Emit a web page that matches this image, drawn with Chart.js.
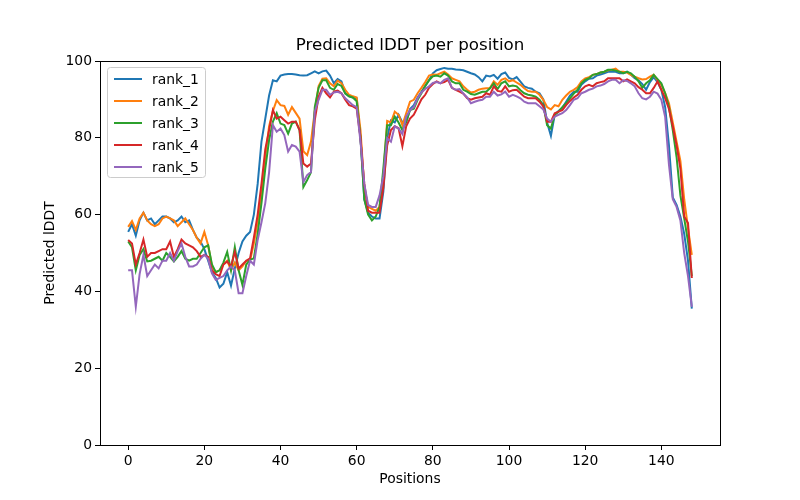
<!DOCTYPE html>
<html>
<head>
<meta charset="utf-8">
<script src="https://cdn.jsdelivr.net/npm/chart.js@4.4.0/dist/chart.umd.min.js"></script>
<style>
  html, body { margin: 0; padding: 0; background: #fff; }
  #wrap { width: 800px; height: 500px; }
</style>
</head>
<body>
<div id="wrap"><canvas id="c"></canvas></div>
<script>
/* ── data (predicted lDDT per residue) ── */
const rank1 = [
  55.5,57.5,54.5,58.5,60.5,58.5,59,57.5,58.5,59.5, 59.5,59,58,58.5,59.5,58,58.5,56,54,53,
  51,48,45,43.5,41,42,45,41.5,46,50, 53,54.5,55.5,60,68,79,85,91,95,94.7,
  96.2,96.5,96.6,96.6,96.5,96.3,96.2,96.3,96.8,97.3, 96.8,97.3,97.5,96.2,94.2,95.3,94.7,91.6,90.8,90.5,
  90.3,80,64,60.5,59.5,59,59,66,80,84.5, 84,86,84,84,87.5,88.5,90.5,92,93.5,95,
  96.8,97.6,97.9,98.2,98,98,97.8,97.7,97.6,97.2, 96.8,96.5,95.8,94.7,96.2,96,96.4,95.4,96.6,97,
  95.6,95.2,95.8,94.6,93.4,93,92.8,92,91.6,90, 84,80.5,86,87,87.8,89.4,91,92,92,93.8,
  94.7,95.4,95.5,96.2,96.5,96.8,97.2,97.2,97.2,96.8, 96.8,97.2,96.4,95.5,95,94,92.5,94.5,95.8,94.5,
  92.5,88,78,64.5,62.5,59.5,55,48,35.5
];
const rank2 = [
  56.8,58.3,56,59,60.5,58.5,57.5,57,57.5,59, 59.5,59,58.5,57,58,59,57.5,56,54,52.5,
  55.5,52,46.5,45,45.5,47,48,45.5,47.5,45.5, 46.5,48,48,52.5,58,65,75,83,87,89.8,
  88.5,88.3,86,88,86.5,85,76.5,75.5,79,87, 93.5,95.4,95.5,94.2,93.4,94.9,94.2,92.5,91.2,90.8,
  90.5,82,67,62,61.5,61,62,70,84.4,84, 86.8,86,83.3,86.4,89.4,89.9,91.6,93,94.5,96.2,
  96.5,96.4,96.8,97.2,96.5,95.5,95.1,94.7,93.4,92.5, 91.8,92,92.5,92.8,92.9,93,94.7,93.8,95.1,95.5,
  94.7,95,94.4,93.8,92.9,92.2,92,92,91.2,89.9, 88,87.4,88.5,88.2,89.9,91,92,92.5,93.2,94.7,
  95.5,95.8,96.4,96.6,97,97.2,97.6,97.7,98,97.2, 97.2,97,96.4,95.9,95.5,95.2,95.3,95.9,96.4,95,
  93.8,91.6,89,84,79,74,64,56.5,49.5
];
const rank3 = [
  53,51.5,45.5,49.5,51,47.8,48,48.5,49,48, 50,49,47.8,49,50.5,48.5,48,48.5,48.5,50,
  51.5,52,47,45,45.5,47.5,50.3,45.5,51.5,45.5, 41.7,47,48.3,48.6,55,63,72,79.4,84.2,86.4,
  83.7,83.3,81.1,83.7,84.2,82,67.2,69,71,88, 93,95,95,93,92.5,94,93.5,91.5,90.8,90.5,
  89.5,80,64,60,58.5,59.5,62,72,83.3,83.3, 85.5,84,82,84.2,87.2,87.6,89.9,91.6,93.5,95,
  96,96.2,95.9,96.8,96.2,94.7,94.2,94.2,92.5,92, 91.4,91.2,91.6,92,92,92.9,94.2,92.7,94.2,94.7,
  93.4,93.6,93.4,92.4,91.6,91.2,91,90.7,89.9,88.5, 83.3,82.4,86,86.8,88,89,90.3,91.5,92.5,94.2,
  95.1,95.5,96.4,96.6,97,97.2,97.7,97.7,97.5,97.2, 96.8,97.2,96.8,95.9,94.7,93,94.2,95,96.4,95.3,
  94.2,91.6,88,82,75,65,59,53,44
];
const rank4 = [
  53.4,52.5,47,50,53.5,49,50,50,50.5,51, 51,53,49,51,53.5,52.5,52,51.5,50.5,49,
  49.5,49,45.5,44.5,44,47,47.8,46.5,50.3,46, 47,48,48.6,54,60,68,77,82,87.2,85,
  85.5,84.6,83.7,84.2,84.2,82,73.3,72.5,73.3,84.6, 90.7,93,91.6,90.5,92,92.3,91.6,89.9,88.5,88.2,
  87.6,80,68,61,60.5,60.5,60.5,67,78,82, 83,82.5,77.8,83,85,86,88,90,91.2,93,
  94,94.7,94.2,94.5,95.1,93,92.5,92,91.5,90.3, 89.9,90.3,90.5,90.7,91.6,91.2,93.4,92.2,92,93.4,
  92,92.4,92.5,91.6,90.7,90.3,90.3,90.3,89.4,88.2, 84.2,84.2,86.4,86.8,87.2,88.5,89.6,90.5,91.2,92.5,
  93.4,93.8,93.4,94.2,94.5,94.7,95.5,95.5,95.5,95.5, 94.7,95.2,94.7,94.2,93.2,92.5,91.6,91.6,93,94.7,
  92.5,90.3,87.5,83,78,72,59.5,57.8,43.5
];
const rank5 = [
  45.5,45.5,36,44.5,49.5,44,45.5,47,46,48, 48,50,48,50.5,52.5,49,46.5,46.5,47,48.5,
  49.5,48.5,44.7,43,43.5,44,45.5,46.5,45.5,39.5, 39.5,44,48,47,53.4,58,63,71,83.3,81.6,
  82.4,80.7,76.4,78.1,77.7,76.4,68.5,70.3,71.1,86.8, 89.9,92.5,92.5,91.2,91.8,92,91.6,90.3,89.4,88.5,
  88,79,68,62.5,62,62,65,70,79.9,79, 83,82.4,81,85.5,87.2,88,90.3,91.8,92.7,93.4,
  94.3,94.5,94.2,95.1,95.5,93,92.5,92.7,91.5,90.5, 89,89.4,89.7,89.9,90.7,90.7,92,91,91.3,92,
  90.7,91.2,90.8,90.3,89.4,89,89,89,88.2,87.4, 85,84.2,85.5,86,86.4,87.2,88.5,89.9,90.3,91.6,
  92,92.5,92.8,93.4,93.6,94,94.7,95.1,95.1,94.2, 95,94.8,94.2,93.4,91.6,90.3,90,90.7,92,91.5,
  89.9,85.5,73,64,62,58.5,50,44,36
];
const series = [rank1, rank2, rank3, rank4, rank5];
const names  = ['rank_1','rank_2','rank_3','rank_4','rank_5'];
const colors = ['#1f77b4','#ff7f0e','#2ca02c','#d62728','#9467bd'];
const xTicks = [0, 20, 40, 60, 80, 100, 120, 140];
const yTicks = [0, 20, 40, 60, 80, 100];
const titleText = 'Predicted lDDT per position';

const FONT = "'DejaVu Sans', sans-serif";

/* ── frame (4 spines) + title centred over the axes ── */
const frame = {
  id: 'frame',
  afterDatasetsDraw(chart) {
    const { ctx, chartArea: a } = chart;
    ctx.save();
    ctx.strokeStyle = '#000'; ctx.lineWidth = 1;
    ctx.strokeRect(Math.round(a.left) + .5, Math.round(a.top) + .5,
                   Math.round(a.right - a.left), Math.round(a.bottom - a.top));
    ctx.font = '16.7px ' + FONT;
    ctx.fillStyle = '#000';
    ctx.textAlign = 'center'; ctx.textBaseline = 'middle';
    ctx.fillText(titleText, (a.left + a.right) / 2, a.top - 15);
    ctx.restore();
  }
};

/* ── legend inside the axes, top-left ── */
const boxLegend = {
  id: 'boxLegend',
  afterDraw(chart) {
    const { ctx, chartArea: a } = chart;
    const x0 = Math.round(a.left) + 7, y0 = Math.round(a.top) + 6, w = 98, h = 110;
    ctx.save();
    ctx.fillStyle = 'rgba(255,255,255,.8)';
    ctx.strokeStyle = '#cccccc'; ctx.lineWidth = 1;
    ctx.beginPath(); ctx.roundRect(x0 + .5, y0 + .5, w, h, 3); ctx.fill(); ctx.stroke();
    ctx.font = '13.9px ' + FONT;
    ctx.textBaseline = 'middle';
    chart.data.datasets.forEach((ds, i) => {
      const y = y0 + 12 + i * 22;
      ctx.strokeStyle = ds.borderColor; ctx.lineWidth = 2;
      ctx.beginPath(); ctx.moveTo(x0 + 7, y); ctx.lineTo(x0 + 35, y); ctx.stroke();
      ctx.fillStyle = '#000';
      ctx.fillText(ds.label, x0 + 45, y + 1);
    });
    ctx.restore();
  }
};

new Chart('c', {
  type: 'line',
  data: {
    datasets: series.map((vals, k) => ({
      label: names[k],
      data: vals.map((v, i) => ({ x: i, y: v })),
      borderColor: colors[k], backgroundColor: colors[k],
      borderWidth: 2, pointRadius: 0, tension: 0, fill: false,
      order: series.length - 1 - k
    }))
  },
  options: {
    responsive: true, maintainAspectRatio: false, animation: false,
    devicePixelRatio: 1,
    layout: { padding: { left: 0, right: 80, top: 61, bottom: 0 } },
    plugins: {
      legend: { display: false },
      tooltip: { enabled: false },
      title: { display: false }
    },
    scales: {
      x: {
        type: 'linear', min: -7.4, max: 155.4,
        afterBuildTicks: s => { s.ticks = xTicks.map(v => ({ value: v })); },
        afterFit: s => { s.height = 55; },
        grid: { drawOnChartArea: false, drawTicks: true, tickLength: 5, color: '#000' },
        border: { display: false },
        ticks: { color: '#000', padding: 3, maxRotation: 0, font: { family: FONT, size: 13.9 } },
        title: { display: true, text: 'Positions', color: '#000',
                 font: { family: FONT, size: 13.9 }, padding: { top: 0, bottom: 12 } }
      },
      y: {
        min: 0, max: 100,
        afterBuildTicks: s => { s.ticks = yTicks.map(v => ({ value: v })); },
        afterFit: s => { s.width = 100; },
        grid: { drawOnChartArea: false, drawTicks: true, tickLength: 5, color: '#000' },
        border: { display: false },
        ticks: { color: '#000', padding: 3, font: { family: FONT, size: 13.9 } },
        title: { display: true, text: 'Predicted lDDT', color: '#000',
                 font: { family: FONT, size: 13.9 }, padding: { top: 42, bottom: 0 } }
      }
    }
  },
  plugins: [frame, boxLegend]
});
</script>
</body>
</html>
